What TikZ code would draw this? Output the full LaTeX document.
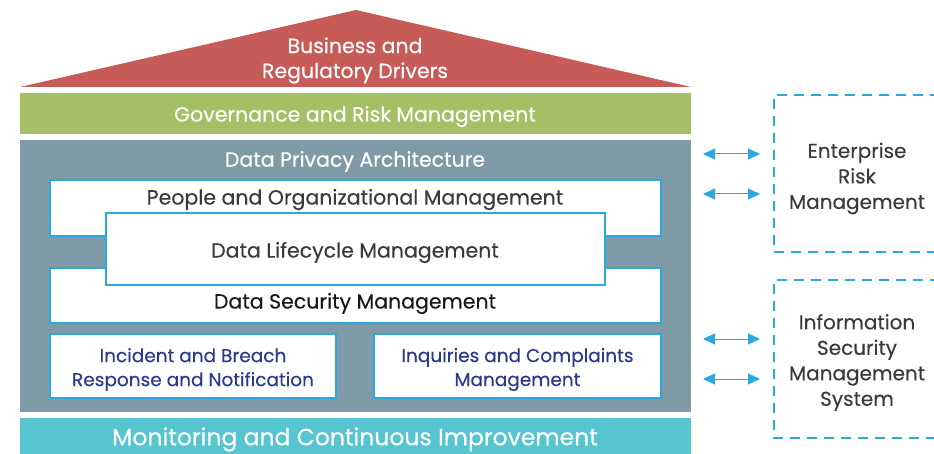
\documentclass[tikz,border=0pt]{standalone}
\usepackage{fontspec}
\setmainfont{Poppins}[FakeBold=0.25]
\usetikzlibrary{arrows.meta,calc}
\definecolor{roofred}{HTML}{C75B58}
\definecolor{govgreen}{HTML}{A3C164}
\definecolor{archgray}{HTML}{7F9BA8}
\definecolor{montea}{HTML}{56C5D0}
\definecolor{lineblue}{HTML}{2AA8E0}
\definecolor{darktext}{HTML}{3A3A3A}
\definecolor{navytext}{HTML}{2B3990}
\tikzset{
  band/.style={draw=none,minimum width=671pt,inner sep=0pt},
  whitebox/.style={draw=lineblue,line width=2pt,fill=white,inner sep=0pt},
  wlabel/.style={text=white,font=\fontsize{20.5}{21}\selectfont},
  dlabel/.style={text=darktext,font=\fontsize{20.5}{21}\selectfont},
  nlabel/.style={text=navytext,align=center,font=\fontsize{18.5}{24}\selectfont},
  linkarrow/.style={draw=lineblue,line width=1pt,{Triangle[length=12pt,width=11pt]}-{Triangle[length=12pt,width=11pt]}},
  dashbox/.style={draw=lineblue,line width=2pt,dash pattern=on 10pt off 7pt},
  sidetext/.style={text=darktext,align=center,font=\fontsize{20}{25.5}\selectfont}
}
\begin{document}
\begin{tikzpicture}[x=1pt,y=-1pt]
\useasboundingbox (0,0) rectangle (934,454);
% roof
\fill[roofred] (20,87) -- (356,10) -- (691,87) -- cycle;
\node[wlabel,align=center,font=\fontsize{20.5}{25}\selectfont] (roof) at (355,60.5) {Business and\\Regulatory Drivers};
% governance
\node[band,fill=govgreen,minimum height=41pt] (gov) at (355.5,113.5) {};
\node[wlabel] (govlabel) at (355,116.5) {Governance and Risk Management};
% architecture
\node[band,fill=archgray,minimum height=272pt] (arch) at (355.5,276) {};
\node[wlabel] (archlabel) at (355,161.5) {Data Privacy Architecture};
\node[whitebox,minimum width=611pt,minimum height=56pt] (people) at (355.5,208) {};
\node[dlabel] (peoplelabel) at (355,199.5) {People and Organizational Management};
\node[whitebox,minimum width=611pt,minimum height=55pt] (security) at (355.5,295.5) {};
\node[dlabel,text=black!90] (securitylabel) at (355,303.5) {Data Security Management};
\node[whitebox,minimum width=499pt,minimum height=72pt] (lifecycle) at (355.5,249) {};
\node[dlabel] (lifecyclelabel) at (355,252.5) {Data Lifecycle Management};
\node[whitebox,minimum width=286pt,minimum height=64pt] (incident) at (193,366) {};
\node[nlabel] (incidentlabel) at (193,369.5) {Incident and Breach\\Response and Notification};
\node[whitebox,minimum width=287pt,minimum height=64pt] (inquiries) at (517.5,366) {};
\node[nlabel] (inquirieslabel) at (517.5,369.5) {Inquiries and Complaints\\Management};
% monitoring
\node[band,fill=montea,minimum height=36pt] (mon) at (355.5,436) {};
\node[wlabel,font=\fontsize{23.5}{24}\selectfont] (monlabel) at (355,439.5) {Monitoring and Continuous Improvement};
% side boxes
\draw[dashbox] (940,95) -- (774,95) -- (774,252) -- (940,252);
\draw[dashbox] (940,280) -- (774,280) -- (774,438) -- (940,438);
\node[sidetext] (erm) at (857,178.5) {Enterprise\\Risk\\Management};
\node[sidetext] (isms) at (857,362.5) {Information\\Security\\Management\\System};
% arrows
\coordinate (a1s) at (703,154); \coordinate (a1e) at (760,154);
\coordinate (a2s) at (703,194); \coordinate (a2e) at (760,194);
\coordinate (a3s) at (703,339); \coordinate (a3e) at (760,339);
\coordinate (a4s) at (703,379); \coordinate (a4e) at (760,379);
\draw[linkarrow] (a1s) -- (a1e);
\draw[linkarrow] (a2s) -- (a2e);
\draw[linkarrow] (a3s) -- (a3e);
\draw[linkarrow] (a4s) -- (a4e);
\end{tikzpicture}
\end{document}
